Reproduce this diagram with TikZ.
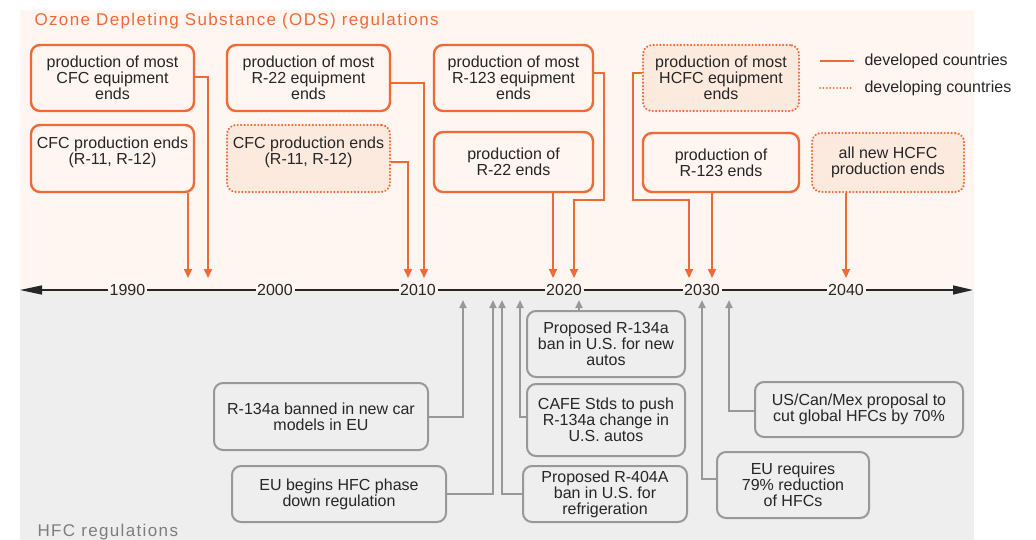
\documentclass[tikz,border=0pt]{standalone}
\usepackage{fontspec}
\setmainfont{Liberation Sans}
\newfontfamily\headfont[LetterSpace=8]{Liberation Sans}
\usetikzlibrary{arrows.meta}
\definecolor{odsorange}{RGB}{241,106,54}
\definecolor{odspink}{RGB}{255,246,242}
\definecolor{odspeach}{RGB}{253,234,223}
\definecolor{hfcgrey}{RGB}{238,238,238}
\definecolor{hfcline}{RGB}{152,152,152}
\definecolor{hfclabel}{RGB}{125,125,125}
\definecolor{textgrey}{RGB}{38,38,38}

\begin{document}
\begin{tikzpicture}[x=1pt,y=-1pt,
        every node/.style={font=\fontsize{16}{16}\selectfont, text=textgrey},
        odsbox/.style={draw=odsorange, line width=2.4pt, rounded corners=9pt, fill=odspink, align=center, inner sep=0pt},
        odsdev/.style={odsbox, fill=odspeach, line cap=round, dash pattern=on 0.01pt off 3.4pt},
        hfcbox/.style={draw=hfcline, line width=2pt, rounded corners=9pt, fill=hfcgrey, align=center, inner sep=0pt},
        odsarrow/.style={draw=odsorange, line width=2pt, -{Triangle[length=9pt,width=8pt]}},
        hfcarrow/.style={draw=hfcline, line width=2pt, -{Triangle[length=8pt,width=7pt]}},
        axis/.style={draw=textgrey, line width=1.3pt},
        yearlabel/.style={inner sep=1.5pt}]
                \useasboundingbox (0,0) rectangle (1036,540);
                \fill[odspink] (20,10) rectangle (974,291);
                \fill[hfcgrey] (20,291) rectangle (974,540);

                \node [anchor=base west, text=odsorange, font=\fontsize{17}{18}\headfont] (odstitle) at (31,25.5) {Ozone Depleting Substance (ODS) regulations};
                \node [anchor=base west, text=hfclabel, font=\fontsize{17}{18}\headfont] (hfctitle) at (34,536) {HFC regulations};

                % ODS boxes
                \node [odsbox, minimum width=163pt, minimum height=66pt] (b1) at (112.5,78) {production of most\\CFC equipment\\ends};
                \node [odsbox, minimum width=163pt, minimum height=67pt] (b2) at (112.5,158.5) {CFC production ends\\(R-11, R-12)\\~};
                \node [odsbox, minimum width=163pt, minimum height=66pt] (b3) at (308.5,78) {production of most\\R-22 equipment\\ends};
                \node [odsdev, minimum width=163pt, minimum height=67pt] (b4) at (308.5,158.5) {CFC production ends\\(R-11, R-12)\\~};
                \node [odsbox, minimum width=159pt, minimum height=66pt] (b5) at (513.5,78) {production of most\\R-123 equipment\\ends};
                \node [odsbox, minimum width=159pt, minimum height=60pt] (b6) at (513.5,162) {production of\\R-22 ends};
                \node [odsdev, minimum width=156pt, minimum height=66pt] (b7) at (721,78) {production of most\\HCFC equipment\\ends};
                \node [odsbox, minimum width=156pt, minimum height=59pt] (b8) at (721,162.5) {production of\\R-123 ends};
                \node [odsdev, minimum width=152pt, minimum height=59pt] (b9) at (888,162.5) {all new HCFC\\production ends};

                % legend
                \node [anchor=west] (devd) at (861,61) {developed countries};
                \node [anchor=west] (devg) at (861,88) {developing countries};
                \draw [odsorange, line width=2pt] ([xshift=-41pt]devd.west) -- ([xshift=-7pt]devd.west);
                \draw [odsorange, line width=2pt, line cap=round, dash pattern=on 0.01pt off 3.4pt] ([xshift=-41pt]devg.west) -- ([xshift=-7pt]devg.west);

                % timeline
                \coordinate (tl) at (20,290);
                \coordinate (tr) at (973,290);
                \node [yearlabel] (y1990) at (127.5,290) {1990};
                \node [yearlabel] (y2000) at (275,290) {2000};
                \node [yearlabel] (y2010) at (418,290) {2010};
                \node [yearlabel] (y2020) at (564,290) {2020};
                \node [yearlabel] (y2030) at (702,290) {2030};
                \node [yearlabel] (y2040) at (846,290) {2040};
                \draw [axis, -{Triangle[length=22pt,width=9pt]}] (y1990) -- (tl);
                \draw [axis, -{Triangle[length=20pt,width=9pt]}] (y2040) -- (tr);
                \draw [axis] (y1990) -- (y2000) -- (y2010) -- (y2020) -- (y2030) -- (y2040);

                % ODS arrow ends and bends
                \coordinate (t1) at (208,278);
                \coordinate (t2) at (188,278);
                \coordinate (t3) at (424,278);
                \coordinate (t4) at (408,278);
                \coordinate (k5) at (604,200);
                \coordinate (t5) at (574,278);
                \coordinate (t6) at (553,278);
                \coordinate (k7) at (633,200);
                \coordinate (t7) at (689,278);
                \coordinate (t8) at (712,278);
                \coordinate (t9) at (846,278);

                \draw [odsarrow] ([yshift=1pt]b1.east) -| (t1);
                \draw [odsarrow] (b2.south -| t2) -- (t2);
                \draw [odsarrow] ([yshift=-5pt]b3.east) -| (t3);
                \draw [odsarrow] ([yshift=-3.5pt]b4.east) -| (t4);
                \draw [odsarrow] ([yshift=5pt]b5.east) -| (k5) -| (t5);
                \draw [odsarrow] (b6.south -| t6) -- (t6);
                \draw [odsarrow] ([yshift=5pt]b7.west) -| (k7) -| (t7);
                \draw [odsarrow] (b8.south -| t8) -- (t8);
                \draw [odsarrow] (b9.south -| t9) -- (t9);

                % HFC boxes
                \node [hfcbox, minimum width=214pt, minimum height=67pt] (g1) at (321,416.5) {R-134a banned in new car\\models in EU};
                \node [hfcbox, minimum width=214pt, minimum height=56pt] (g2) at (339,494) {EU begins HFC phase\\down regulation};
                \node [hfcbox, minimum width=164pt, minimum height=56pt] (g3) at (605,494) {Proposed R-404A\\ban in U.S. for\\refrigeration};
                \node [hfcbox, minimum width=158pt, minimum height=72pt] (g4) at (606,420) {CAFE Stds to push\\R-134a change in\\U.S. autos};
                \node [hfcbox, minimum width=158pt, minimum height=66pt] (g5) at (606,344) {Proposed R-134a\\ban in U.S. for new\\autos};
                \node [hfcbox, minimum width=152pt, minimum height=66pt] (g6) at (793,485) {EU requires\\79\% reduction\\of HFCs};
                \node [hfcbox, minimum width=208pt, minimum height=55pt] (g7) at (859,409.5) {US/Can/Mex proposal to\\cut global HFCs by 70\%};

                \coordinate (u1) at (463,300);
                \coordinate (u2) at (493,300);
                \coordinate (u3) at (502,300);
                \coordinate (u4) at (520,300);
                \coordinate (u5) at (579,300);
                \coordinate (u6) at (702,300);
                \coordinate (u7) at (729,300);

                \draw [hfcarrow] (g1.east) -| (u1);
                \draw [hfcarrow] (g2.east) -| (u2);
                \draw [hfcarrow] (g3.west) -| (u3);
                \draw [hfcarrow] ([yshift=3pt]g4.west) -| (u4);
                \draw [hfcarrow] (g5.north -| u5) -- (u5);
                \draw [hfcarrow] ([yshift=6pt]g6.west) -| (u6);
                \draw [hfcarrow] ([yshift=-1.5pt]g7.west) -| (u7);
\end{tikzpicture}
\end{document}
